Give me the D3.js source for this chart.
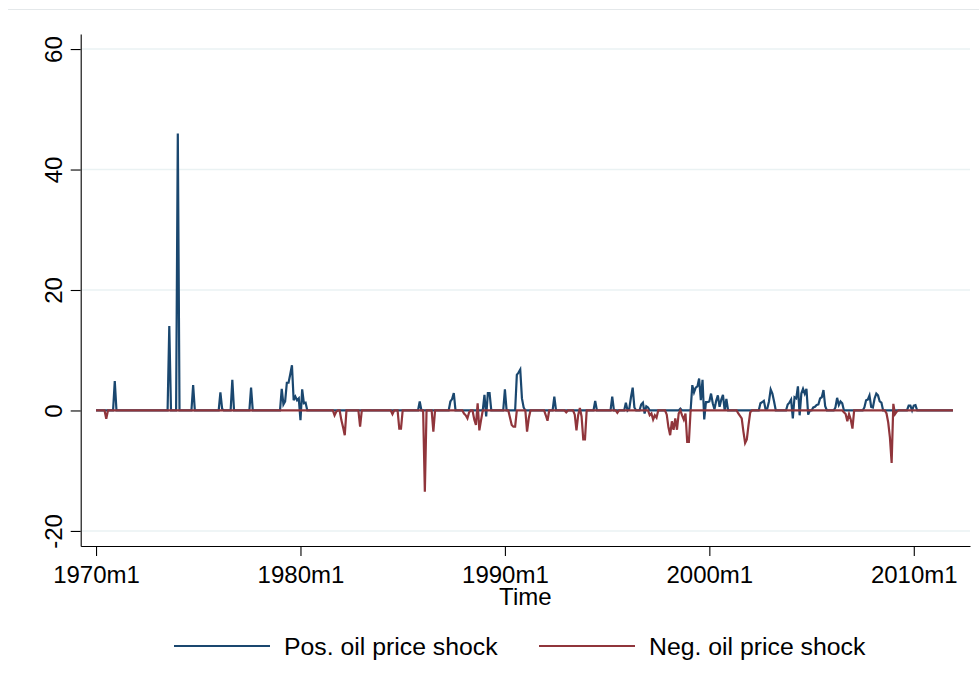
<!DOCTYPE html>
<html>
<head>
<meta charset="utf-8">
<script src="https://cdn.jsdelivr.net/npm/d3@7"></script>
<style>
  body { margin: 0; background: #ffffff; }
  text { font-family: "Liberation Sans", Arial, Helvetica, sans-serif; fill: #000; }
</style>
</head>
<body>
<div id="shock_chart"></div>
<script>
// ===========================================================
// DATA (months not listed are 0)
// ===========================================================
var firstMonth = "1970m1";
var lastMonth = "2011m12";

var posDates = ["1970m12", "1973m8", "1974m1", "1974m10", "1976m2", "1976m3", "1976m9", "1977m8",
    "1979m2", "1979m3", "1979m4", "1979m5", "1979m6", "1979m7", "1979m8", "1979m9", "1979m10", "1979m11", "1979m12",
    "1980m1", "1980m2", "1980m3", "1980m4", "1985m11", "1987m5", "1987m6", "1987m7",
    "1989m1", "1989m2", "1989m3", "1989m4", "1990m1", "1990m8", "1990m9", "1990m10", "1990m11", "1990m12",
    "1992m6", "1994m6", "1995m4", "1995m12", "1996m2", "1996m3", "1996m4", "1996m5",
    "1996m9", "1996m10", "1996m11", "1996m12", "1997m1", "1998m8",
    "1999m3", "1999m4", "1999m5", "1999m6", "1999m7", "1999m8", "1999m9", "1999m10", "1999m11", "1999m12",
    "2000m1", "2000m2", "2000m3", "2000m4", "2000m5", "2000m6", "2000m7", "2000m8", "2000m9", "2000m11",
    "2002m7", "2002m8", "2002m9", "2002m10", "2002m11", "2002m12", "2003m1", "2003m2", "2003m3",
    "2003m11", "2003m12", "2004m1", "2004m2", "2004m3", "2004m4", "2004m5", "2004m6", "2004m7", "2004m8", "2004m9", "2004m10", "2004m11",
    "2005m2", "2005m3", "2005m4", "2005m5", "2005m6", "2005m7", "2005m8", "2005m9",
    "2006m3", "2006m4", "2006m5", "2006m6", "2006m7",
    "2007m8", "2007m9", "2007m10", "2007m11", "2007m12", "2008m1", "2008m2", "2008m3", "2008m4", "2008m5", "2008m6",
    "2009m10", "2009m11", "2010m1", "2010m2"];
var posValues = [4.9, 14.0, 46.0, 4.2, 3.0, 0.3, 5.1, 3.8,
    3.6, 1.0, 1.5, 4.6, 4.6, 6.0, 7.5, 1.7, 2.3, 1.7, 2.0,
    -1.6, 3.5, 1.2, 1.3, 1.5, 1.5, 1.9, 2.9,
    2.6, -1.0, 2.9, 2.9, 3.5, 5.9, 6.3, 6.8, 2.0, 0.5,
    2.3, 1.6, 2.3, 1.3, 0.3, 2.2, 3.8, 0.5,
    1.0, 1.3, -0.5, 0.7, 0.5, 0.3,
    4.2, 3.0, 3.8, 4.0, 5.3, 1.7, 5.1, -1.5, 1.4, 1.4,
    1.5, 2.8, 1.2, 0.2, 1.6, 2.5, 0.6, 1.8, 2.6, 1.9,
    1.2, 1.4, 1.6, 0.2, 0.3, 1.5, 3.5, 2.8, 1.5,
    1.0, 1.3, 1.8, -1.3, 2.2, 2.0, 4.0, -0.8, 2.8, 3.6, 2.8, 3.6, -0.7,
    0.5, 0.6, 0.9, 1.0, 2.0, 2.2, 3.4, 0.7,
    0.5, 2.1, 0.9, 1.5, 1.2,
    0.5, 1.7, 1.8, 2.5, 0.6, 0.5, 2.0, 2.8, 2.5, 1.5, 1.3,
    0.8, 0.8, 0.8, 0.9];

var negDates = ["1970m7", "1981m9", "1981m10", "1982m1", "1982m2", "1982m3", "1982m12",
    "1984m7", "1984m11", "1984m12", "1986m2", "1986m7",
    "1988m1", "1988m2", "1988m3", "1988m4", "1988m7", "1988m8", "1988m9", "1988m10", "1988m11",
    "1990m4", "1990m5", "1990m6", "1990m7", "1991m2", "1991m3", "1992m1", "1992m2", "1993m1",
    "1993m6", "1993m7", "1993m8", "1993m9", "1993m10", "1993m11", "1993m12", "1995m7",
    "1997m2", "1997m3", "1997m4", "1997m5", "1997m6",
    "1997m12", "1998m1", "1998m2", "1998m3", "1998m4", "1998m5", "1998m6", "1998m7",
    "1998m9", "1998m10", "1998m11", "1998m12", "1999m1",
    "2001m6", "2001m7", "2001m8", "2001m9", "2001m10", "2001m11", "2001m12", "2002m1",
    "2006m8", "2006m9", "2006m10", "2006m11", "2006m12", "2007m1",
    "2008m9", "2008m10", "2008m11", "2008m12", "2009m1", "2009m2", "2009m3"];
var negValues = [-1.4, -0.8, -0.2, -1.6, -2.8, -4.1, -2.7,
    -0.6, -3.0, -3.0, -13.5, -3.5,
    -0.5, -0.8, -1.3, -0.3, -1.5, -2.4, 1.2, -3.3, -1.6,
    -1.2, -2.4, -2.7, -2.7, -3.5, -1.3, -0.8, -1.7, -0.3,
    -0.7, -3.3, -0.8, 0.4, -1.0, -4.8, -4.8, -0.4,
    -0.8, -0.5, -1.5, -0.8, -1.2,
    -0.7, -2.8, -4.1, -1.8, -3.2, -1.3, -3.2, -0.5,
    -0.8, -1.5, -0.5, -5.2, -5.2,
    -0.5, -0.9, -1.3, -3.5, -5.4, -4.8, -2.4, -0.3,
    -0.3, -0.6, -1.8, -0.6, -1.5, -3.0,
    -0.5, -2.0, -4.5, -8.7, 1.1, -0.6, -0.2];

var xTickLabels = ["1970m1", "1980m1", "1990m1", "2000m1", "2010m1"];
var yTickValues = [-20, 0, 20, 40, 60];
var seriesNames = ["Pos. oil price shock", "Neg. oil price shock"];

// ===========================================================
// SET MARGINS
// ===========================================================
var svgWidth = 979;
var svgHeight = 695;

var plot = { left: 80.7, right: 970, top: 34, bottom: 546 };
var colors = ["#1a476f", "#90353b"];
var fontFamily = '"Liberation Sans", Arial, Helvetica, sans-serif';

// "1974m1" -> months since 1970m1
function monthIndex(s) {
    var p = s.split("m");
    return (+p[0] - 1970) * 12 + (+p[1] - 1);
}

function buildSeries(dates, values) {
    var lookup = {};
    dates.forEach(function(d, i) { lookup[monthIndex(d)] = values[i]; });
    var out = [];
    for (var m = monthIndex(firstMonth); m <= monthIndex(lastMonth); m++) {
        out.push({ m: m, v: lookup[m] !== undefined ? lookup[m] : 0 });
    }
    return out;
}

var posSeries = buildSeries(posDates, posValues);
var negSeries = buildSeries(negDates, negValues);

// ===========================================================
// SVG WRAPPER
// ===========================================================
var svg = d3.select('#shock_chart')
    .append('svg')
    .attr('width', svgWidth)
    .attr('height', svgHeight)
    .style('display', 'block');

svg.append('rect')
    .attr('width', svgWidth)
    .attr('height', svgHeight)
    .attr('fill', '#ffffff');

// faint outer border at the top
svg.append('line')
    .attr('x1', 8).attr('x2', svgWidth)
    .attr('y1', 9.5).attr('y2', 9.5)
    .attr('stroke', '#e4e8ea')
    .attr('stroke-width', 1);

// ===========================================================
// SCALES
// ===========================================================
var x = d3.scaleLinear()
    .domain([-9, 513])
    .range([plot.left, plot.right]);

var y = d3.scaleLinear()
    .domain([-22.5, 62.5])
    .range([plot.bottom, plot.top]);

// ===========================================================
// GRIDLINES
// ===========================================================
svg.append('g')
    .selectAll('line')
    .data(yTickValues.filter(function(d) { return d !== 0; }))
    .enter()
    .append('line')
    .attr('x1', plot.left + 1)
    .attr('x2', plot.right)
    .attr('y1', function(d) { return y(d); })
    .attr('y2', function(d) { return y(d); })
    .attr('stroke', '#eaf2f3')
    .attr('stroke-width', 1.6);

// ===========================================================
// AXES
// ===========================================================
var xAxis = d3.axisBottom(x)
    .tickValues(xTickLabels.map(monthIndex))
    .tickFormat(function(d) { return xTickLabels[xTickLabels.map(monthIndex).indexOf(d)]; })
    .tickSize(10)
    .tickSizeOuter(0);

var xAxisGroup = svg.append('g')
    .attr('transform', 'translate(0,' + plot.bottom + ')')
    .call(xAxis);
xAxisGroup.select('.domain').attr('stroke', '#000').attr('stroke-width', 1.1);
xAxisGroup.selectAll('.tick line').attr('stroke', '#000').attr('stroke-width', 1.1);
xAxisGroup.selectAll('.tick text')
    .attr('y', 36.7)
    .attr('dy', 0)
    .style('font-family', fontFamily)
    .style('font-size', '24px')
    .attr('fill', '#000');

var yAxis = d3.axisLeft(y)
    .tickValues(yTickValues)
    .tickFormat(function(d) { return String(d); })   // plain hyphen, as in the original
    .tickSize(10)
    .tickSizeOuter(0);

var yAxisGroup = svg.append('g')
    .attr('transform', 'translate(' + plot.left + ',0)')
    .call(yAxis);
yAxisGroup.select('.domain').attr('stroke', '#000').attr('stroke-width', 1.1);
yAxisGroup.selectAll('.tick line').attr('stroke', '#000').attr('stroke-width', 1.1);
yAxisGroup.selectAll('.tick text')
    .attr('x', 0)
    .attr('y', 0)
    .attr('dy', 0)
    .attr('transform', 'translate(' + (62 - plot.left) + ',0) rotate(-90)')
    .attr('text-anchor', 'middle')
    .style('font-family', fontFamily)
    .style('font-size', '24px')
    .attr('fill', '#000');

svg.append('text')
    .attr('x', (plot.left + plot.right) / 2)
    .attr('y', 605)
    .attr('text-anchor', 'middle')
    .style('font-size', '24px')
    .text('Time');

// ===========================================================
// LINES
// ===========================================================
var line = d3.line()
    .x(function(d) { return x(d.m); })
    .y(function(d) { return y(d.v); });

[posSeries, negSeries].forEach(function(s, i) {
    svg.append('path')
        .datum(s)
        .attr('fill', 'none')
        .attr('stroke', colors[i])
        .attr('stroke-width', 2.2)
        .attr('stroke-linejoin', 'miter')
        .attr('stroke-miterlimit', 4)
        .attr('d', line);
});

// ===========================================================
// LEGEND
// ===========================================================
var legendX = [174, 539];
seriesNames.forEach(function(name, i) {
    svg.append('line')
        .attr('x1', legendX[i]).attr('x2', legendX[i] + 96)
        .attr('y1', 646).attr('y2', 646)
        .attr('stroke', colors[i])
        .attr('stroke-width', 2);
    svg.append('text')
        .attr('x', legendX[i] + 110)
        .attr('y', 655)
        .style('font-size', '24.8px')
        .text(name);
});
</script>
</body>
</html>
